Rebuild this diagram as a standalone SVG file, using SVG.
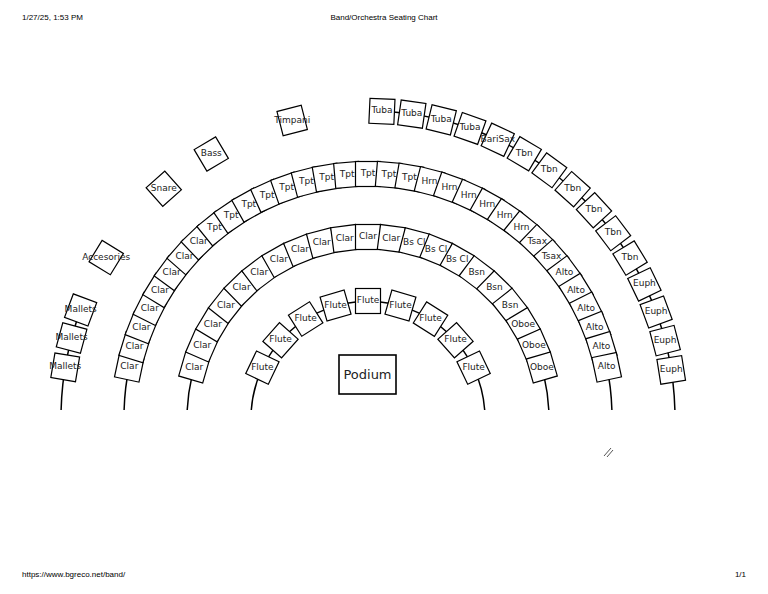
<svg xmlns="http://www.w3.org/2000/svg" width="768" height="594" viewBox="0 0 768 594">
<style>
.c{fill:#fff;stroke:#000;stroke-width:1.2}
.arc{fill:none;stroke:#000;stroke-width:1.5}
text{font-family:"DejaVu Sans",sans-serif;font-size:9px;text-anchor:middle;fill:#222}
.h{font-family:"Liberation Sans",Arial,sans-serif;font-size:8px;fill:#000}
</style>
<rect width="768" height="594" fill="#fff"/>
<text class="h" x="22" y="20" style="text-anchor:start">1/27/25, 1:53 PM</text>
<text class="h" x="384" y="20">Band/Orchestra Seating Chart</text>
<text class="h" x="22" y="577" style="text-anchor:start">https://www.bgreco.net/band/</text>
<text class="h" x="746" y="577" style="text-anchor:end">1/1</text>
<g id="connectors">
<path class="arc" d="M251.3 410 A117 117 0 0 1 484.7 410"/>
<path class="arc" d="M187.2 410 A181 181 0 0 1 548.8 410"/>
<path class="arc" d="M124.1 410 A244 244 0 0 1 611.9 410"/>
<path class="arc" d="M381.9 111.3 A307 307 0 0 1 674.9 410"/>
<path class="arc" d="M80.6 310 A307 307 0 0 0 61.1 410"/>
</g>
<g id="podium"><rect x="339" y="355" width="57" height="39" fill="#fff" stroke="#000" stroke-width="1.6"/><text x="367.5" y="379" style="font-size:13px">Podium</text></g>
<g id="row1">
<g transform="translate(368 418) rotate(25.5) translate(-117 0)"><rect class="c" x="-12.5" y="-12.5" width="25" height="25"/><text transform="rotate(-25.5)" y="2">Flute</text></g>
<g transform="translate(368 418) rotate(41.6) translate(-117 0)"><rect class="c" x="-12.5" y="-12.5" width="25" height="25"/><text transform="rotate(-41.6)" y="2">Flute</text></g>
<g transform="translate(368 418) rotate(57.8) translate(-117 0)"><rect class="c" x="-12.5" y="-12.5" width="25" height="25"/><text transform="rotate(-57.8)" y="2">Flute</text></g>
<g transform="translate(368 418) rotate(73.9) translate(-117 0)"><rect class="c" x="-12.5" y="-12.5" width="25" height="25"/><text transform="rotate(-73.9)" y="2">Flute</text></g>
<g transform="translate(368 418) rotate(90) translate(-117 0)"><rect class="c" x="-12.5" y="-12.5" width="25" height="25"/><text transform="rotate(-90)" y="2">Flute</text></g>
<g transform="translate(368 418) rotate(106.1) translate(-117 0)"><rect class="c" x="-12.5" y="-12.5" width="25" height="25"/><text transform="rotate(-106.1)" y="2">Flute</text></g>
<g transform="translate(368 418) rotate(122.3) translate(-117 0)"><rect class="c" x="-12.5" y="-12.5" width="25" height="25"/><text transform="rotate(-122.3)" y="2">Flute</text></g>
<g transform="translate(368 418) rotate(138.4) translate(-117 0)"><rect class="c" x="-12.5" y="-12.5" width="25" height="25"/><text transform="rotate(-138.4)" y="2">Flute</text></g>
<g transform="translate(368 418) rotate(154.5) translate(-117 0)"><rect class="c" x="-12.5" y="-12.5" width="25" height="25"/><text transform="rotate(-154.5)" y="2">Flute</text></g>
</g>
<g id="row2">
<g transform="translate(368 418) rotate(16.2) translate(-181 0)"><rect class="c" x="-12.5" y="-12.5" width="25" height="25"/><text transform="rotate(-16.2)" y="2">Clar</text></g>
<g transform="translate(368 418) rotate(23.6) translate(-181 0)"><rect class="c" x="-12.5" y="-12.5" width="25" height="25"/><text transform="rotate(-23.6)" y="2">Clar</text></g>
<g transform="translate(368 418) rotate(31.0) translate(-181 0)"><rect class="c" x="-12.5" y="-12.5" width="25" height="25"/><text transform="rotate(-31.0)" y="2">Clar</text></g>
<g transform="translate(368 418) rotate(38.3) translate(-181 0)"><rect class="c" x="-12.5" y="-12.5" width="25" height="25"/><text transform="rotate(-38.3)" y="2">Clar</text></g>
<g transform="translate(368 418) rotate(45.7) translate(-181 0)"><rect class="c" x="-12.5" y="-12.5" width="25" height="25"/><text transform="rotate(-45.7)" y="2">Clar</text></g>
<g transform="translate(368 418) rotate(53.1) translate(-181 0)"><rect class="c" x="-12.5" y="-12.5" width="25" height="25"/><text transform="rotate(-53.1)" y="2">Clar</text></g>
<g transform="translate(368 418) rotate(60.5) translate(-181 0)"><rect class="c" x="-12.5" y="-12.5" width="25" height="25"/><text transform="rotate(-60.5)" y="2">Clar</text></g>
<g transform="translate(368 418) rotate(67.9) translate(-181 0)"><rect class="c" x="-12.5" y="-12.5" width="25" height="25"/><text transform="rotate(-67.9)" y="2">Clar</text></g>
<g transform="translate(368 418) rotate(75.2) translate(-181 0)"><rect class="c" x="-12.5" y="-12.5" width="25" height="25"/><text transform="rotate(-75.2)" y="2">Clar</text></g>
<g transform="translate(368 418) rotate(82.6) translate(-181 0)"><rect class="c" x="-12.5" y="-12.5" width="25" height="25"/><text transform="rotate(-82.6)" y="2">Clar</text></g>
<g transform="translate(368 418) rotate(90) translate(-181 0)"><rect class="c" x="-12.5" y="-12.5" width="25" height="25"/><text transform="rotate(-90)" y="2">Clar</text></g>
<g transform="translate(368 418) rotate(97.4) translate(-181 0)"><rect class="c" x="-12.5" y="-12.5" width="25" height="25"/><text transform="rotate(-97.4)" y="2">Clar</text></g>
<g transform="translate(368 418) rotate(104.8) translate(-181 0)"><rect class="c" x="-12.5" y="-12.5" width="25" height="25"/><text transform="rotate(-104.8)" y="2">Bs Cl</text></g>
<g transform="translate(368 418) rotate(112.1) translate(-181 0)"><rect class="c" x="-12.5" y="-12.5" width="25" height="25"/><text transform="rotate(-112.1)" y="2">Bs Cl</text></g>
<g transform="translate(368 418) rotate(119.5) translate(-181 0)"><rect class="c" x="-12.5" y="-12.5" width="25" height="25"/><text transform="rotate(-119.5)" y="2">Bs Cl</text></g>
<g transform="translate(368 418) rotate(126.9) translate(-181 0)"><rect class="c" x="-12.5" y="-12.5" width="25" height="25"/><text transform="rotate(-126.9)" y="2">Bsn</text></g>
<g transform="translate(368 418) rotate(134.3) translate(-181 0)"><rect class="c" x="-12.5" y="-12.5" width="25" height="25"/><text transform="rotate(-134.3)" y="2">Bsn</text></g>
<g transform="translate(368 418) rotate(141.7) translate(-181 0)"><rect class="c" x="-12.5" y="-12.5" width="25" height="25"/><text transform="rotate(-141.7)" y="2">Bsn</text></g>
<g transform="translate(368 418) rotate(149.0) translate(-181 0)"><rect class="c" x="-12.5" y="-12.5" width="25" height="25"/><text transform="rotate(-149.0)" y="2">Oboe</text></g>
<g transform="translate(368 418) rotate(156.4) translate(-181 0)"><rect class="c" x="-12.5" y="-12.5" width="25" height="25"/><text transform="rotate(-156.4)" y="2">Oboe</text></g>
<g transform="translate(368 418) rotate(163.8) translate(-181 0)"><rect class="c" x="-12.5" y="-12.5" width="25" height="25"/><text transform="rotate(-163.8)" y="2">Oboe</text></g>
</g>
<g id="row3">
<g transform="translate(368 418) rotate(12) translate(-244 0)"><rect class="c" x="-12.5" y="-12.5" width="25" height="25"/><text transform="rotate(-12)" y="2">Clar</text></g>
<g transform="translate(368 418) rotate(16.9) translate(-244 0)"><rect class="c" x="-12.5" y="-12.5" width="25" height="25"/><text transform="rotate(-16.9)" y="2">Clar</text></g>
<g transform="translate(368 418) rotate(21.75) translate(-244 0)"><rect class="c" x="-12.5" y="-12.5" width="25" height="25"/><text transform="rotate(-21.75)" y="2">Clar</text></g>
<g transform="translate(368 418) rotate(26.6) translate(-244 0)"><rect class="c" x="-12.5" y="-12.5" width="25" height="25"/><text transform="rotate(-26.6)" y="2">Clar</text></g>
<g transform="translate(368 418) rotate(31.5) translate(-244 0)"><rect class="c" x="-12.5" y="-12.5" width="25" height="25"/><text transform="rotate(-31.5)" y="2">Clar</text></g>
<g transform="translate(368 418) rotate(36.4) translate(-244 0)"><rect class="c" x="-12.5" y="-12.5" width="25" height="25"/><text transform="rotate(-36.4)" y="2">Clar</text></g>
<g transform="translate(368 418) rotate(41.25) translate(-244 0)"><rect class="c" x="-12.5" y="-12.5" width="25" height="25"/><text transform="rotate(-41.25)" y="2">Clar</text></g>
<g transform="translate(368 418) rotate(46.1) translate(-244 0)"><rect class="c" x="-12.5" y="-12.5" width="25" height="25"/><text transform="rotate(-46.1)" y="2">Clar</text></g>
<g transform="translate(368 418) rotate(51) translate(-244 0)"><rect class="c" x="-12.5" y="-12.5" width="25" height="25"/><text transform="rotate(-51)" y="2">Tpt</text></g>
<g transform="translate(368 418) rotate(55.9) translate(-244 0)"><rect class="c" x="-12.5" y="-12.5" width="25" height="25"/><text transform="rotate(-55.9)" y="2">Tpt</text></g>
<g transform="translate(368 418) rotate(60.75) translate(-244 0)"><rect class="c" x="-12.5" y="-12.5" width="25" height="25"/><text transform="rotate(-60.75)" y="2">Tpt</text></g>
<g transform="translate(368 418) rotate(65.6) translate(-244 0)"><rect class="c" x="-12.5" y="-12.5" width="25" height="25"/><text transform="rotate(-65.6)" y="2">Tpt</text></g>
<g transform="translate(368 418) rotate(70.5) translate(-244 0)"><rect class="c" x="-12.5" y="-12.5" width="25" height="25"/><text transform="rotate(-70.5)" y="2">Tpt</text></g>
<g transform="translate(368 418) rotate(75.4) translate(-244 0)"><rect class="c" x="-12.5" y="-12.5" width="25" height="25"/><text transform="rotate(-75.4)" y="2">Tpt</text></g>
<g transform="translate(368 418) rotate(80.25) translate(-244 0)"><rect class="c" x="-12.5" y="-12.5" width="25" height="25"/><text transform="rotate(-80.25)" y="2">Tpt</text></g>
<g transform="translate(368 418) rotate(85.1) translate(-244 0)"><rect class="c" x="-12.5" y="-12.5" width="25" height="25"/><text transform="rotate(-85.1)" y="2">Tpt</text></g>
<g transform="translate(368 418) rotate(90) translate(-244 0)"><rect class="c" x="-12.5" y="-12.5" width="25" height="25"/><text transform="rotate(-90)" y="2">Tpt</text></g>
<g transform="translate(368 418) rotate(94.9) translate(-244 0)"><rect class="c" x="-12.5" y="-12.5" width="25" height="25"/><text transform="rotate(-94.9)" y="2">Tpt</text></g>
<g transform="translate(368 418) rotate(99.75) translate(-244 0)"><rect class="c" x="-12.5" y="-12.5" width="25" height="25"/><text transform="rotate(-99.75)" y="2">Tpt</text></g>
<g transform="translate(368 418) rotate(104.6) translate(-244 0)"><rect class="c" x="-12.5" y="-12.5" width="25" height="25"/><text transform="rotate(-104.6)" y="2">Hrn</text></g>
<g transform="translate(368 418) rotate(109.5) translate(-244 0)"><rect class="c" x="-12.5" y="-12.5" width="25" height="25"/><text transform="rotate(-109.5)" y="2">Hrn</text></g>
<g transform="translate(368 418) rotate(114.4) translate(-244 0)"><rect class="c" x="-12.5" y="-12.5" width="25" height="25"/><text transform="rotate(-114.4)" y="2">Hrn</text></g>
<g transform="translate(368 418) rotate(119.25) translate(-244 0)"><rect class="c" x="-12.5" y="-12.5" width="25" height="25"/><text transform="rotate(-119.25)" y="2">Hrn</text></g>
<g transform="translate(368 418) rotate(124.1) translate(-244 0)"><rect class="c" x="-12.5" y="-12.5" width="25" height="25"/><text transform="rotate(-124.1)" y="2">Hrn</text></g>
<g transform="translate(368 418) rotate(129) translate(-244 0)"><rect class="c" x="-12.5" y="-12.5" width="25" height="25"/><text transform="rotate(-129)" y="2">Hrn</text></g>
<g transform="translate(368 418) rotate(133.9) translate(-244 0)"><rect class="c" x="-12.5" y="-12.5" width="25" height="25"/><text transform="rotate(-133.9)" y="2">Tsax</text></g>
<g transform="translate(368 418) rotate(138.75) translate(-244 0)"><rect class="c" x="-12.5" y="-12.5" width="25" height="25"/><text transform="rotate(-138.75)" y="2">Tsax</text></g>
<g transform="translate(368 418) rotate(143.6) translate(-244 0)"><rect class="c" x="-12.5" y="-12.5" width="25" height="25"/><text transform="rotate(-143.6)" y="2">Alto</text></g>
<g transform="translate(368 418) rotate(148.5) translate(-244 0)"><rect class="c" x="-12.5" y="-12.5" width="25" height="25"/><text transform="rotate(-148.5)" y="2">Alto</text></g>
<g transform="translate(368 418) rotate(153.4) translate(-244 0)"><rect class="c" x="-12.5" y="-12.5" width="25" height="25"/><text transform="rotate(-153.4)" y="2">Alto</text></g>
<g transform="translate(368 418) rotate(158.25) translate(-244 0)"><rect class="c" x="-12.5" y="-12.5" width="25" height="25"/><text transform="rotate(-158.25)" y="2">Alto</text></g>
<g transform="translate(368 418) rotate(163.1) translate(-244 0)"><rect class="c" x="-12.5" y="-12.5" width="25" height="25"/><text transform="rotate(-163.1)" y="2">Alto</text></g>
<g transform="translate(368 418) rotate(168) translate(-244 0)"><rect class="c" x="-12.5" y="-12.5" width="25" height="25"/><text transform="rotate(-168)" y="2">Alto</text></g>
</g>
<g id="row4">
<g transform="translate(368 418) rotate(9.5) translate(-307 0)"><rect class="c" x="-12.5" y="-12.5" width="25" height="25"/><text transform="rotate(-9.5)" y="2">Mallets</text></g>
<g transform="translate(368 418) rotate(15.1) translate(-307 0)"><rect class="c" x="-12.5" y="-12.5" width="25" height="25"/><text transform="rotate(-15.1)" y="2">Mallets</text></g>
<g transform="translate(368 418) rotate(20.6) translate(-307 0)"><rect class="c" x="-12.5" y="-12.5" width="25" height="25"/><text transform="rotate(-20.6)" y="2">Mallets</text></g>
<g transform="translate(368 418) rotate(31.5) translate(-307 0)"><rect class="c" x="-12.5" y="-12.5" width="25" height="25"/><text transform="rotate(-31.5)" y="2">Accesories</text></g>
<g transform="translate(368 418) rotate(48.3) translate(-307 0)"><rect class="c" x="-12.5" y="-12.5" width="25" height="25"/><text transform="rotate(-48.3)" y="2">Snare</text></g>
<g transform="translate(368 418) rotate(59.3) translate(-307 0)"><rect class="c" x="-12.5" y="-12.5" width="25" height="25"/><text transform="rotate(-59.3)" y="2">Bass</text></g>
<g transform="translate(368 418) rotate(75.7) translate(-307 0)"><rect class="c" x="-12.5" y="-12.5" width="25" height="25"/><text transform="rotate(-75.7)" y="2">Timpani</text></g>
<g transform="translate(368 418) rotate(92.6) translate(-307 0)"><rect class="c" x="-12.5" y="-12.5" width="25" height="25"/><text transform="rotate(-92.6)" y="2">Tuba</text></g>
<g transform="translate(368 418) rotate(98.2) translate(-307 0)"><rect class="c" x="-12.5" y="-12.5" width="25" height="25"/><text transform="rotate(-98.2)" y="2">Tuba</text></g>
<g transform="translate(368 418) rotate(103.8) translate(-307 0)"><rect class="c" x="-12.5" y="-12.5" width="25" height="25"/><text transform="rotate(-103.8)" y="2">Tuba</text></g>
<g transform="translate(368 418) rotate(109.4) translate(-307 0)"><rect class="c" x="-12.5" y="-12.5" width="25" height="25"/><text transform="rotate(-109.4)" y="2">Tuba</text></g>
<g transform="translate(368 418) rotate(115.0) translate(-307 0)"><rect class="c" x="-12.5" y="-12.5" width="25" height="25"/><text transform="rotate(-115.0)" y="2">BariSax</text></g>
<g transform="translate(368 418) rotate(120.6) translate(-307 0)"><rect class="c" x="-12.5" y="-12.5" width="25" height="25"/><text transform="rotate(-120.6)" y="2">Tbn</text></g>
<g transform="translate(368 418) rotate(126.2) translate(-307 0)"><rect class="c" x="-12.5" y="-12.5" width="25" height="25"/><text transform="rotate(-126.2)" y="2">Tbn</text></g>
<g transform="translate(368 418) rotate(131.8) translate(-307 0)"><rect class="c" x="-12.5" y="-12.5" width="25" height="25"/><text transform="rotate(-131.8)" y="2">Tbn</text></g>
<g transform="translate(368 418) rotate(137.4) translate(-307 0)"><rect class="c" x="-12.5" y="-12.5" width="25" height="25"/><text transform="rotate(-137.4)" y="2">Tbn</text></g>
<g transform="translate(368 418) rotate(143.0) translate(-307 0)"><rect class="c" x="-12.5" y="-12.5" width="25" height="25"/><text transform="rotate(-143.0)" y="2">Tbn</text></g>
<g transform="translate(368 418) rotate(148.6) translate(-307 0)"><rect class="c" x="-12.5" y="-12.5" width="25" height="25"/><text transform="rotate(-148.6)" y="2">Tbn</text></g>
<g transform="translate(368 418) rotate(154.2) translate(-307 0)"><rect class="c" x="-12.5" y="-12.5" width="25" height="25"/><text transform="rotate(-154.2)" y="2">Euph</text></g>
<g transform="translate(368 418) rotate(159.8) translate(-307 0)"><rect class="c" x="-12.5" y="-12.5" width="25" height="25"/><text transform="rotate(-159.8)" y="2">Euph</text></g>
<g transform="translate(368 418) rotate(165.4) translate(-307 0)"><rect class="c" x="-12.5" y="-12.5" width="25" height="25"/><text transform="rotate(-165.4)" y="2">Euph</text></g>
<g transform="translate(368 418) rotate(171.0) translate(-307 0)"><rect class="c" x="-12.5" y="-12.5" width="25" height="25"/><text transform="rotate(-171.0)" y="2">Euph</text></g>
</g>
<g id="handle" stroke="#555" stroke-width="1"><line x1="604" y1="456" x2="611" y2="448"/><line x1="607" y1="457" x2="613" y2="450"/></g>
</svg>
